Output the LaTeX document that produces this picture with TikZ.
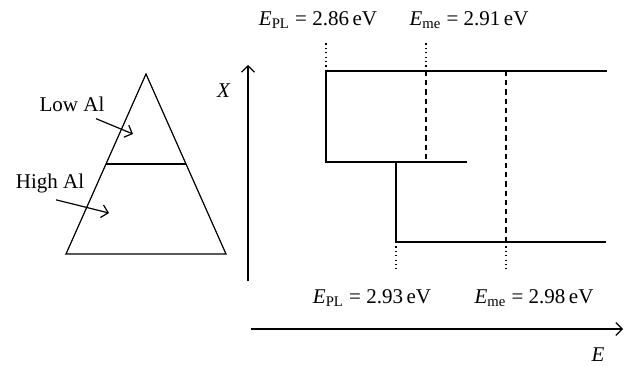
\documentclass[tikz,border=0pt]{standalone}
\usepackage{fontspec}
\setmainfont{Liberation Serif}
\usetikzlibrary{arrows.meta}
\begin{document}
\begin{tikzpicture}[x=0.5pt,y=-0.5pt,line width=0.6pt,
    >={Straight Barb[length=3.2pt,width=6.5pt]},
    font=\fontsize{10.5}{12}\selectfont]
    \useasboundingbox (0,0) rectangle (633,365);
    \def\lvl#1#2{\textit{E}\textsubscript{#1} = #2\,eV}
    % graded layer
    \coordinate (apex) at (146,74);
    \coordinate (baseL) at (66,254);
    \coordinate (baseR) at (226,254);
    \coordinate (midL) at (106,164);
    \coordinate (midR) at (186,164);
    \draw (apex) -- (baseR) -- (baseL) -- cycle;
    \draw (midL) -- (midR);
    \node (low) at (72,104) {Low Al};
    \node (high) at (50,183) {High Al};
    \coordinate (lowTip) at (133,134);
    \coordinate (highTip) at (109,213);
    \draw[->] ([xshift=12pt]low.south) -- (lowTip);
    \draw[->] ([xshift=3pt]high.south) -- (highTip);
    % axes
    \coordinate (xFoot) at (248,281);
    \coordinate (xHead) at (248,65);
    \coordinate (eFoot) at (251,329);
    \coordinate (eHead) at (623,329);
    \draw[->] (xFoot) -- (xHead);
    \draw[->] (eFoot) -- (eHead);
    \node (xLab) at (224,91) {\textit{X}};
    \node (eLab) at (598,355) {\textit{E}};
    % band profile
    \coordinate (topL) at (326,71);
    \coordinate (topR) at (607,71);
    \coordinate (stepL) at (326,162);
    \coordinate (stepR) at (467,162);
    \coordinate (stepM) at (396,162);
    \coordinate (botL) at (396,242);
    \coordinate (botR) at (606,242);
    \draw (topR) -- (topL) -- (stepL) -- (stepR);
    \draw (stepM) -- (botL) -- (botR);
    \coordinate (meA) at (426,71);
    \coordinate (meA') at (426,162);
    \coordinate (meB) at (506,71);
    \coordinate (meB') at (506,242);
    \draw[dash pattern=on 2.6pt off 2pt] (meA) -- (meA');
    \draw[dash pattern=on 2.6pt off 2pt] (meB) -- (meB');
    \foreach \c/\d in {topL/-29,meA/-29,botL/27,meB'/27}
      \draw[dash pattern=on 0.6pt off 1.6pt] (\c) -- ++(0,\d);
    % values
    \node (plTop) at (318,20) {\lvl{PL}{2.86}};
    \node (meTop) at (469,20) {\lvl{me}{2.91}};
    \node (plBot) at (372,298) {\lvl{PL}{2.93}};
    \node (meBot) at (534,298) {\lvl{me}{2.98}};
\end{tikzpicture}
\end{document}
